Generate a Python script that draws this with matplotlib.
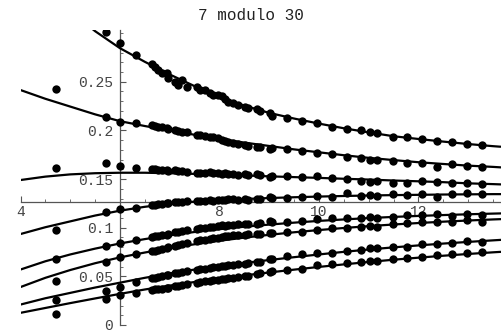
import numpy as np
import matplotlib
matplotlib.use("Agg")
import matplotlib.pyplot as plt
from matplotlib.ticker import FixedLocator, MultipleLocator

title = "7 modulo 30"

# sample positions (shared by all eight series)
xs = [4.71, 5.72, 6.01, 6.33, 6.64, 6.70, 6.77, 6.84, 6.94, 6.97, 7.11, 7.17, 7.25, 7.35,
      7.55, 7.61, 7.71, 7.81, 7.88, 7.98, 8.05, 8.11, 8.17, 8.27, 8.37, 8.51, 8.57, 8.75,
      8.81, 9.01, 9.05, 9.36, 9.66, 9.96, 10.26, 10.57, 10.85, 11.03, 11.17, 11.48, 11.78,
      12.07, 12.37, 12.67, 12.97, 13.28]

s1 = [0.35, 0.301, 0.2895, 0.2775, 0.268, 0.2655, 0.262, 0.2587, 0.2587, 0.254, 0.250, 0.247,
      0.2518, 0.245, 0.245, 0.2415, 0.2415, 0.238, 0.2364, 0.2364, 0.2354, 0.232, 0.2295,
      0.2278, 0.226, 0.2244, 0.2227, 0.2217, 0.2203, 0.2176, 0.2148, 0.2124, 0.2097, 0.2073,
      0.2038, 0.2011, 0.2004, 0.198, 0.1977, 0.1929, 0.1929, 0.1908, 0.1894, 0.1877, 0.1857,
      0.185]
s2 = [0.243, 0.214, 0.209, 0.208, 0.2055, 0.205, 0.2035, 0.203, 0.202, 0.2015, 0.200, 0.199,
      0.1985, 0.198, 0.1955, 0.195, 0.1945, 0.1935, 0.193, 0.192, 0.190, 0.1894, 0.1884,
      0.1874, 0.186, 0.185, 0.184, 0.1833, 0.1826, 0.1806, 0.1816, 0.1806, 0.1792, 0.1764,
      0.1757, 0.173, 0.1713, 0.1696, 0.1696, 0.1686, 0.1668, 0.1662, 0.1627, 0.1655, 0.1634,
      0.1627]
s3 = [0.161, 0.166, 0.1634, 0.1617, 0.160, 0.1605, 0.159, 0.1595, 0.159, 0.1585, 0.159, 0.158,
      0.1585, 0.157, 0.156, 0.1565, 0.156, 0.1575, 0.1565, 0.156, 0.1555, 0.156, 0.155,
      0.1555, 0.1545, 0.155, 0.1545, 0.1548, 0.154, 0.1524, 0.153, 0.1531, 0.1524, 0.1531,
      0.1507, 0.1497, 0.1483, 0.1473, 0.1475, 0.1463, 0.1463, 0.1483, 0.1473, 0.1456, 0.1456,
      0.1446]
s4 = [0.098, 0.1165, 0.119, 0.1206, 0.123, 0.1235, 0.124, 0.1245, 0.125, 0.1255, 0.126,
      0.1262, 0.1267, 0.127, 0.1272, 0.1275, 0.1278, 0.128, 0.1278, 0.1285, 0.1285, 0.1288,
      0.129, 0.1292, 0.1288, 0.129, 0.1285, 0.1292, 0.129, 0.1312, 0.1305, 0.1302, 0.1312,
      0.1326, 0.1318, 0.1353, 0.1326, 0.1336, 0.133, 0.1343, 0.1336, 0.1346, 0.1312, 0.1346,
      0.136, 0.1346]
s5 = [0.068, 0.0815, 0.0846, 0.0874, 0.0905, 0.091, 0.0915, 0.092, 0.093, 0.0935, 0.0955,
      0.096, 0.097, 0.0975, 0.099, 0.0995, 0.100, 0.1005, 0.101, 0.1015, 0.1028, 0.102,
      0.1025, 0.103, 0.1038, 0.1035, 0.104, 0.1036, 0.1045, 0.1065, 0.106, 0.1062, 0.1066,
      0.109, 0.1096, 0.1103, 0.1103, 0.1113, 0.1103, 0.1113, 0.113, 0.113, 0.1137, 0.1123,
      0.1137, 0.113]
s6 = [0.045, 0.065, 0.0702, 0.0726, 0.076, 0.0765, 0.0775, 0.078, 0.079, 0.080, 0.0815,
      0.0825, 0.0835, 0.0845, 0.086, 0.087, 0.0875, 0.0885, 0.089, 0.0895, 0.0908, 0.091,
      0.0915, 0.092, 0.0925, 0.093, 0.0935, 0.0935, 0.094, 0.095, 0.0945, 0.0955, 0.0959,
      0.0976, 0.100, 0.0993, 0.101, 0.1015, 0.101, 0.1035, 0.1045, 0.1055, 0.1055, 0.1055,
      0.1079, 0.1055]
s7 = [0.026, 0.035, 0.0394, 0.0445, 0.048, 0.0485, 0.049, 0.050, 0.051, 0.0515, 0.053,
      0.0535, 0.0545, 0.055, 0.057, 0.0575, 0.058, 0.059, 0.0595, 0.060, 0.0606, 0.061,
      0.0615, 0.062, 0.0627, 0.063, 0.0635, 0.065, 0.065, 0.068, 0.0678, 0.0705, 0.073,
      0.0745, 0.0745, 0.076, 0.0771, 0.0788, 0.0788, 0.0805, 0.0805, 0.0829, 0.0829, 0.084,
      0.0863, 0.0856]
s8 = [0.011, 0.027, 0.0308, 0.0325, 0.036, 0.0365, 0.037, 0.0375, 0.038, 0.0385, 0.040,
      0.0405, 0.041, 0.042, 0.0435, 0.044, 0.045, 0.0455, 0.046, 0.0465, 0.047, 0.0475,
      0.048, 0.0485, 0.0497, 0.050, 0.0505, 0.0524, 0.053, 0.0545, 0.055, 0.057, 0.058,
      0.0617, 0.0625, 0.0634, 0.065, 0.0658, 0.0658, 0.0678, 0.0692, 0.0702, 0.072, 0.0727,
      0.0737, 0.0747]

# fitted curves read at regular positions
cx = [4.0, 4.5, 5.0, 5.5, 6.0, 6.5, 7.0, 7.5, 8.0, 8.5, 9.0, 9.5, 10.0, 10.5, 11.0, 11.5,
      12.0, 12.5, 13.0, 13.5, 13.66]
c1 = [0.372, 0.346, 0.323, 0.302, 0.2845, 0.2705, 0.2575, 0.2455, 0.2345, 0.2255, 0.218,
      0.2122, 0.207, 0.2022, 0.198, 0.194, 0.1912, 0.1885, 0.186, 0.1838, 0.1832]
c2 = [0.2415, 0.2325, 0.2245, 0.2165, 0.2095, 0.2045, 0.200, 0.1955, 0.1915, 0.1875, 0.184,
      0.1805, 0.1775, 0.1745, 0.1718, 0.1695, 0.1673, 0.1655, 0.1638, 0.1625, 0.162]
c3 = [0.149, 0.1525, 0.1548, 0.156, 0.1565, 0.1565, 0.156, 0.1553, 0.1545, 0.1537, 0.1528,
      0.152, 0.1512, 0.1503, 0.1495, 0.1485, 0.1477, 0.1468, 0.1456, 0.1448, 0.1445]
c4 = [0.0935, 0.1005, 0.1065, 0.1125, 0.1175, 0.1215, 0.1245, 0.1268, 0.1283, 0.1295, 0.1305,
      0.1313, 0.132, 0.1326, 0.1331, 0.1335, 0.1338, 0.1341, 0.1343, 0.1345, 0.1345]
c5 = [0.057, 0.0655, 0.0725, 0.0785, 0.0838, 0.0883, 0.0922, 0.0956, 0.0985, 0.101, 0.1032,
      0.1052, 0.107, 0.1085, 0.1099, 0.1111, 0.1121, 0.113, 0.1138, 0.1145, 0.1147]
c6 = [0.039, 0.0485, 0.0565, 0.0635, 0.0695, 0.0745, 0.079, 0.083, 0.0866, 0.0898, 0.0927,
      0.0953, 0.0976, 0.0997, 0.1016, 0.1033, 0.1048, 0.1062, 0.1074, 0.1085, 0.1088]
c7 = [0.021, 0.0275, 0.033, 0.0385, 0.0435, 0.0485, 0.053, 0.057, 0.0605, 0.0638, 0.0668,
      0.0697, 0.0725, 0.0752, 0.0776, 0.0798, 0.0818, 0.0837, 0.0854, 0.087, 0.0875]
c8 = [0.0125, 0.0175, 0.0225, 0.0273, 0.032, 0.0365, 0.0405, 0.0442, 0.0477, 0.051, 0.054,
      0.0569, 0.0597, 0.0623, 0.0648, 0.0671, 0.0692, 0.0712, 0.073, 0.0747, 0.0752]

series = [s1, s2, s3, s4, s5, s6, s7, s8]
curves = [c1, c2, c3, c4, c5, c6, c7, c8]

x_major = [4, 8, 10, 12]
y_major = [0, 0.05, 0.1, 0.15, 0.2, 0.25]
y_labels = ["0", "0.05", "0.1", "0.15", "0.2", "0.25"]

W, H = 501, 335
fig = plt.figure(figsize=(W / 100, H / 100), dpi=100)
left = 20.5 / W
bottom = (H - 325) / H
top_px = 30.2
ax = fig.add_axes([left, bottom, 1 - left, (325 - top_px) / H])
ax.set_xlim(4, 13.66)
ax.set_ylim(0, 0.303)

mono = "Liberation Mono"
for c in curves:
    ax.plot(cx, c, color="black", lw=1.6, zorder=3, solid_capstyle="butt")
for s in series:
    ax.plot(xs, s, "o", color="black", ms=6.0, mec="black", mew=0, zorder=4)

for side in ("top", "right"):
    ax.spines[side].set_visible(False)
ax.spines["left"].set_position(("data", 6.0))
ax.spines["bottom"].set_position(("data", 0.1267))
for side in ("left", "bottom"):
    ax.spines[side].set_color("#555555")
    ax.spines[side].set_linewidth(0.9)
    ax.spines[side].set_zorder(1)

ax.xaxis.set_major_locator(FixedLocator(x_major))
ax.xaxis.set_minor_locator(MultipleLocator(0.5))
ax.set_xticklabels([str(v) for v in x_major])
ax.yaxis.set_major_locator(FixedLocator(y_major))
ax.yaxis.set_minor_locator(MultipleLocator(0.01))
ax.set_yticklabels(y_labels)

ax.tick_params(axis="both", which="major", direction="in", length=4.5, width=0.8,
               color="#555555", labelcolor="#444444", labelsize=10.5)
ax.tick_params(axis="both", which="minor", direction="in", length=2.5, width=0.6,
               color="#555555")
ax.tick_params(axis="x", pad=2)
ax.tick_params(axis="y", pad=5)
for lab in ax.get_xticklabels() + ax.get_yticklabels():
    lab.set_fontfamily(mono)
    lab.set_zorder(1)

fig.text(0.5, 1 - 15 / H, title, ha="center", va="center", fontsize=11.5,
         family=mono, color="#222222")

fig.savefig("out.png", dpi=100)
